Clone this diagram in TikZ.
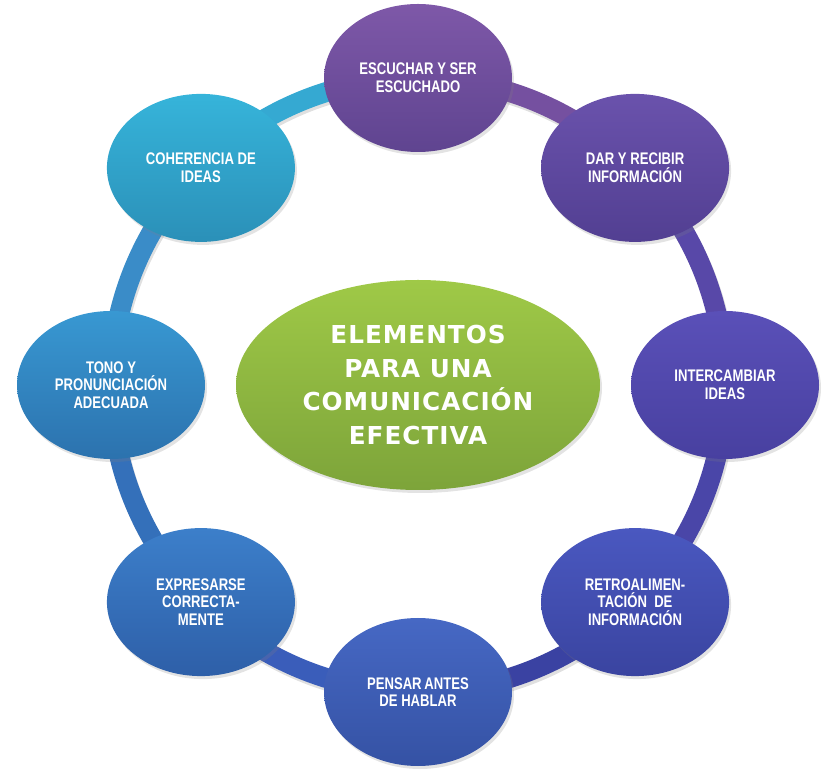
\documentclass[tikz,border=0pt]{standalone}
\usepackage{fontspec}
\setmainfont{Liberation Sans}
\newfontfamily\smallf{Liberation Sans}[FakeStretch=0.78]
\newfontfamily\bigf{DejaVu Sans}[LetterSpace=4]
\usetikzlibrary{shapes.geometric,shadows}
\pgfdeclarelayer{bg}
\pgfsetlayers{bg,main}
% node colours (top / bottom)
\definecolor{escT}{HTML}{7E58A8}\definecolor{escB}{HTML}{5F4490}
\definecolor{darT}{HTML}{6A52AC}\definecolor{darB}{HTML}{523F92}
\definecolor{intT}{HTML}{5A50B8}\definecolor{intB}{HTML}{4840A0}
\definecolor{retT}{HTML}{4A58C0}\definecolor{retB}{HTML}{3A44A0}
\definecolor{penT}{HTML}{4668C4}\definecolor{penB}{HTML}{3552A4}
\definecolor{expT}{HTML}{3C7FCA}\definecolor{expB}{HTML}{2E5FA8}
\definecolor{tonT}{HTML}{3898D2}\definecolor{tonB}{HTML}{2C72AE}
\definecolor{cohT}{HTML}{36B4DA}\definecolor{cohB}{HTML}{2B90B8}
\definecolor{hubT}{HTML}{9FC947}\definecolor{hubB}{HTML}{7DA43A}
% ring colours
\definecolor{rEsc}{HTML}{7550A0}
\definecolor{rDar}{HTML}{5848A8}
\definecolor{rInt}{HTML}{4A46A8}
\definecolor{rRet}{HTML}{3A42A2}
\definecolor{rPen}{HTML}{3A5DBA}
\definecolor{rExp}{HTML}{3470BA}
\definecolor{rTon}{HTML}{3A8CC8}
\definecolor{rCoh}{HTML}{35A9D2}
\begin{document}
\begin{tikzpicture}[x=1pt,y=1pt,
  bubble/.style={ellipse, minimum width=188pt, minimum height=148pt, inner sep=0pt,
    align=center, text=white,
    font={\smallf\bfseries\fontsize{16.8}{17.7}\selectfont},
    drop shadow={opacity=0.22, shadow xshift=2pt, shadow yshift=-3pt}},
  hub/.style={ellipse, minimum width=364pt, minimum height=210pt, inner sep=0pt,
    align=center, text=white, top color=hubT, bottom color=hubB,
    font={\bigf\bfseries\fontsize{24.7}{33.7}\selectfont},
    drop shadow={opacity=0.22, shadow xshift=2pt, shadow yshift=-3pt}},
  ring/.style={line width=20pt},
  ringshadow/.style={line width=20pt, black, opacity=0.12}
]
\useasboundingbox (0,0) rectangle (840,776);
\begin{scope}[shift={(418,391)}]
  \node[hub] (hub) at (0,0) {ELEMENTOS\\PARA UNA\\COMUNICACIÓN\\EFECTIVA};
  \node[bubble, top color=escT, bottom color=escB] (esc) at (90:307) {ESCUCHAR Y SER\\ESCUCHADO};
  \node[bubble, top color=darT, bottom color=darB] (dar) at (45:307) {DAR Y RECIBIR\\INFORMACIÓN};
  \node[bubble, top color=intT, bottom color=intB] (int) at (0:307) {INTERCAMBIAR\\IDEAS};
  \node[bubble, top color=retT, bottom color=retB] (ret) at (-45:307) {RETROALIMEN-\\TACIÓN~~DE\\INFORMACIÓN};
  \node[bubble, top color=penT, bottom color=penB] (pen) at (-90:307) {PENSAR\,ANTES\\DE HABLAR};
  \node[bubble, top color=expT, bottom color=expB] (exp) at (-135:307) {EXPRESARSE\\CORRECTA-\\MENTE};
  \node[bubble, top color=tonT, bottom color=tonB] (ton) at (180:307) {TONO Y\\PRONUNCIACIÓN\\ADECUADA};
  \node[bubble, top color=cohT, bottom color=cohB] (coh) at (135:307) {COHERENCIA DE\\IDEAS};
  \begin{pgfonlayer}{bg}
    \draw[ringshadow] (1.5,-3) circle[radius=307];
    \draw[ring, rEsc] (esc.center) arc[start angle=90, end angle=45, radius=307];
    \draw[ring, rDar] (dar.center) arc[start angle=45, end angle=0, radius=307];
    \draw[ring, rInt] (int.center) arc[start angle=0, end angle=-45, radius=307];
    \draw[ring, rRet] (ret.center) arc[start angle=-45, end angle=-90, radius=307];
    \draw[ring, rPen] (pen.center) arc[start angle=-90, end angle=-135, radius=307];
    \draw[ring, rExp] (exp.center) arc[start angle=-135, end angle=-180, radius=307];
    \draw[ring, rTon] (ton.center) arc[start angle=180, end angle=135, radius=307];
    \draw[ring, rCoh] (coh.center) arc[start angle=135, end angle=90, radius=307];
  \end{pgfonlayer}
\end{scope}
\end{tikzpicture}
\end{document}
